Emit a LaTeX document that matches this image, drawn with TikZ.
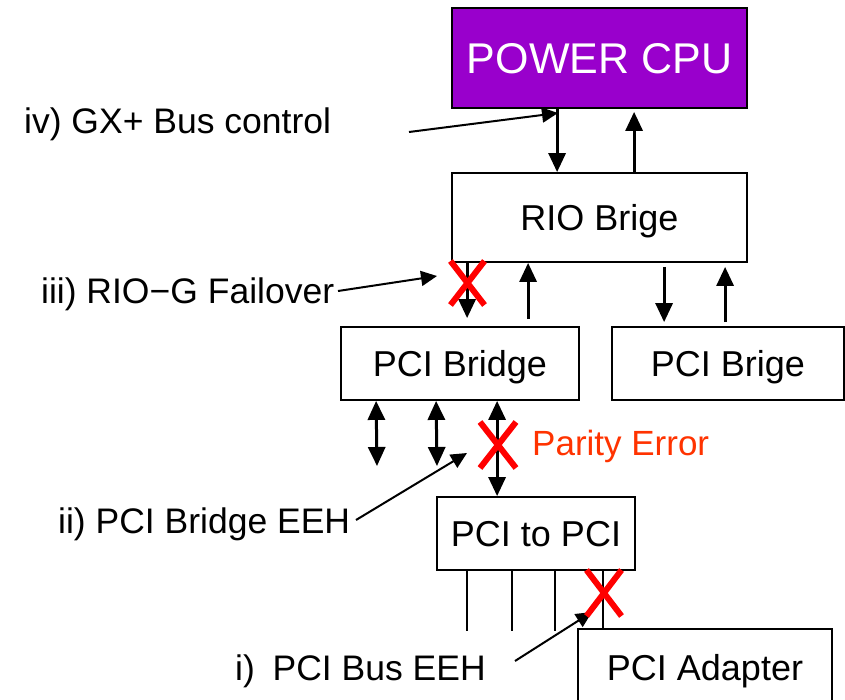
\documentclass[tikz,border=0pt]{standalone}
\usepackage{fontspec}
\setmainfont{Liberation Sans}
\usetikzlibrary{arrows.meta,calc}
\definecolor{cpupurple}{HTML}{9900CC}
\definecolor{errred}{HTML}{FF3300}
\definecolor{markred}{HTML}{FF0000}
\tikzset{
  unit/.style    = {draw=black, line width=1.8pt, fill=white, inner sep=0pt,
                    text height=26pt, text depth=0pt, font=\fontsize{36}{40}\selectfont},
  cpubox/.style  = {unit, fill=cpupurple, text=white, text height=31pt,
                    font=\fontsize{43}{48}\selectfont},
  sig/.style     = {-{Triangle[length=19pt,width=17pt]}, line width=3pt},
  dsig/.style    = {{Triangle[length=19pt,width=17pt]}-{Triangle[length=19pt,width=17pt]}, line width=3pt},
  lead/.style    = {line width=1.8pt},
  pointer/.style = {-{Triangle[length=16pt,width=15pt]}, line width=2pt},
  note/.style    = {font=\fontsize{35.5}{39}\selectfont, inner sep=0pt, anchor=base west},
  cross/.style   = {draw=markred, line width=6pt},
}
\begin{document}
\begin{tikzpicture}[x=1pt, y=-1pt]
  \useasboundingbox (0,0) rectangle (845,699);
  \clip (0,0) rectangle (845,699);
  % boxes
  \node[cpubox, minimum width=295pt, minimum height=100pt] (cpu) at (599.5,58) {POWER CPU};
  \node[unit, minimum width=295pt, minimum height=89pt] (rio) at (599.5,217.5) {RIO Brige};
  \node[unit, minimum width=238pt, minimum height=73pt] (pcib) at (460,363.5) {PCI Bridge};
  \node[unit, minimum width=232pt, minimum height=73pt] (pcibr) at (728,363.5) {PCI Brige};
  \node[unit, minimum width=198pt, minimum height=73pt] (p2p) at (536,533.5) {PCI to PCI};
  \node[unit, minimum width=254pt, minimum height=76pt] (adapter) at (705,667) {PCI Adapter};
  % GX+ bus
  \draw[sig] ([xshift=106pt]cpu.south west) -- ([xshift=106pt]rio.north west);
  \draw[sig] ([xshift=183pt]rio.north west) -- ([xshift=183pt,yshift=-3pt]cpu.south west);
  % RIO-G links
  \draw[sig] ([xshift=16pt]rio.south west) -- ([xshift=127pt,yshift=8pt]pcib.north west);
  \draw[sig] ([xshift=188pt,yshift=7pt]pcib.north west) -- ([xshift=77pt]rio.south west);
  \draw[sig] ([xshift=213pt,yshift=-4pt]rio.south west) -- ([xshift=53pt,yshift=4pt]pcibr.north west);
  \draw[sig] ([xshift=114pt,yshift=4pt]pcibr.north west) -- ([xshift=274pt,yshift=-4pt]rio.south west);
  % PCI buses below the bridge
  \coordinate (da) at (377,466);
  \coordinate (db) at (437,466);
  \draw[dsig] ([xshift=36pt]pcib.south west) -- (da);
  \draw[dsig] ([xshift=96pt]pcib.south west) -- (db);
  \draw[dsig] ([xshift=157pt]pcib.south west) -- ([xshift=61pt]p2p.north west);
  % slots
  \foreach \dx in {31,76,119}
    \draw[lead] ([xshift=\dx pt]p2p.south west) -- ++(0,60);
  \draw[lead] ([xshift=167pt]p2p.south west) -- ([xshift=26pt]adapter.north west);
  % labels
  \node[note] (lbliv) at (24,133) {iv) GX+ Bus control};
  \node[note] (lbliii) at (41,303) {iii) RIO−G Failover};
  \node[note] (lblii) at (58,533) {ii) PCI Bridge EEH};
  \node[note] (lbli) at (235,680) {i)\enspace PCI Bus EEH};
  \node[note, text=errred, font=\fontsize{35}{38}\selectfont] (parity) at (532,455) {Parity Error};
  % pointers
  \coordinate (tiv) at (409,132);   \coordinate (hiv) at (558,113);
  \coordinate (tiii) at (338,291);  \coordinate (hiii) at (437,276);
  \coordinate (tii) at (356,520);   \coordinate (hii) at (467,453);
  \coordinate (ti) at (515,661);    \coordinate (hi) at (592,612);
  \draw[pointer] (tiv) -- (hiv);
  \draw[pointer] (tiii) -- (hiii);
  \draw[pointer] (tii) -- (hii);
  \draw[pointer] (ti) -- (hi);
  % failure marks
  \coordinate (xa) at (467.5,283);
  \coordinate (xb) at (498,445);
  \coordinate (xc) at (604,593);
  \foreach \c/\w/\h in {xa/17/22, xb/18/23, xc/17.5/23} {
    \draw[cross] ($(\c)+(-\w,-\h)$) -- ($(\c)+(\w,\h)$);
    \draw[cross] ($(\c)+(-\w,\h)$) -- ($(\c)+(\w,-\h)$);
  }
\end{tikzpicture}
\end{document}
